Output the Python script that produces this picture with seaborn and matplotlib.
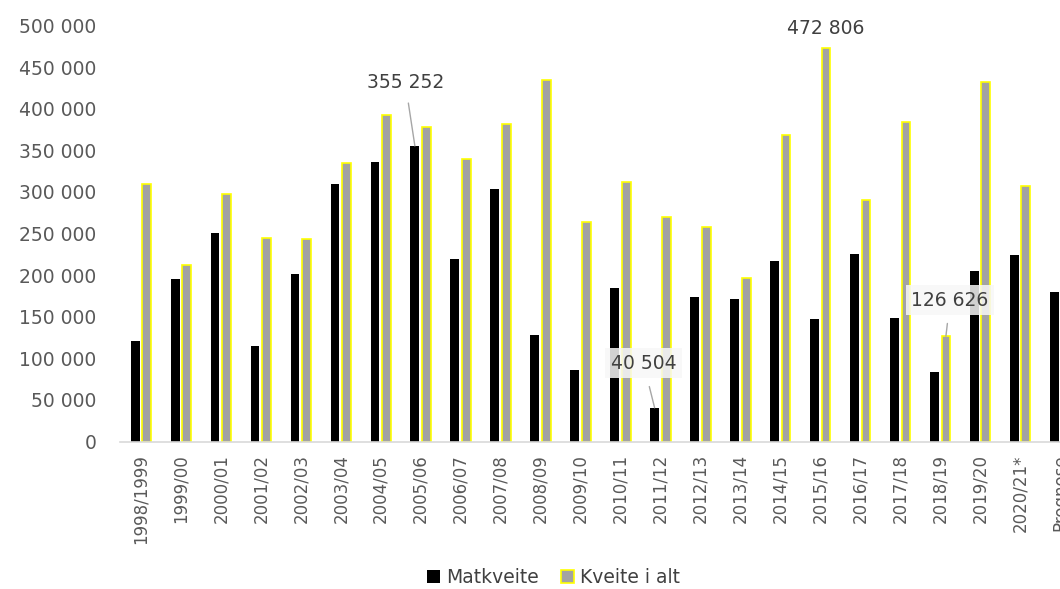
import pandas as pd
import matplotlib
matplotlib.use("Agg")
import matplotlib.pyplot as plt
from matplotlib.patches import Patch
import seaborn as sns

# Data
seasons = ["1998/1999", "1999/00", "2000/01", "2001/02", "2002/03", "2003/04",
           "2004/05", "2005/06", "2006/07", "2007/08", "2008/09", "2009/10",
           "2010/11", "2011/12", "2012/13", "2013/14", "2014/15", "2015/16",
           "2016/17", "2017/18", "2018/19", "2019/20", "2020/21*", "Prognose"]
matkveite = [120500, 195600, 251000, 115200, 201000, 309900,
             336300, 355252, 219000, 303500, 127600, 85600,
             184900, 40504, 174100, 171300, 217000, 147200,
             225000, 148000, 83900, 205300, 223800, 179300]
kveite_i_alt = [310100, 212400, 297500, 244600, 243800, 334800,
                392400, 378400, 340000, 381600, 434500, 264200,
                312300, 269800, 258200, 196900, 368400, 472806,
                289900, 384400, 126626, 431700, 307100, 243800]

series_names = ["Matkveite", "Kveite i alt"]
colors = {"Matkveite": "#000000", "Kveite i alt": "#A3A3A3"}
edge_yellow = "#FFFF00"
text_grey = "#595959"

df = pd.DataFrame({
    "season": seasons * 2,
    "value": matkveite + kveite_i_alt,
    "serie": [series_names[0]] * len(seasons) + [series_names[1]] * len(seasons),
})

sns.set_style("white")
plt.rcParams["font.family"] = ["DejaVu Sans"]

fig = plt.figure(figsize=(10.6, 5.89), dpi=100)
ax = fig.add_axes([0.1132, 0.2504, 0.8868, 0.7063])

sns.barplot(data=df, x="season", y="value", hue="serie", palette=colors,
            width=0.58, gap=0.24, ax=ax, errorbar=None, legend=False)

# black bars: no edge, grey bars: yellow outline
for p in ax.containers[0]:
    p.set_linewidth(0)
for p in ax.containers[1]:
    p.set_edgecolor(edge_yellow)
    p.set_linewidth(1.2)

ax.set_ylim(0, 500000)
ax.set_xlim(-0.525, 23.0)
ax.set_yticks(range(0, 500001, 50000))
ax.set_yticklabels([f"{v:,}".replace(",", " ") for v in range(0, 500001, 50000)])
ax.set_xlabel("")
ax.set_ylabel("")
ax.tick_params(axis="y", length=0, pad=17, labelsize=13.5, labelcolor=text_grey)
ax.tick_params(axis="x", length=0, pad=9, labelsize=12, labelcolor=text_grey)
plt.setp(ax.get_xticklabels(), rotation=90)

for side in ["top", "right", "left"]:
    ax.spines[side].set_visible(False)
ax.spines["bottom"].set_color("#D9D9D9")
ax.spines["bottom"].set_linewidth(1.2)


def bar_top(container, idx):
    p = container[idx]
    return p.get_x() + p.get_width() / 2, p.get_height()


label_kw = dict(fontsize=13.5, color="#404040", ha="center", va="center",
                textcoords="offset points", annotation_clip=False)
line_kw = dict(arrowstyle="-", color="#A6A6A6", lw=1, shrinkA=6, shrinkB=0)
box_kw = dict(boxstyle="square,pad=0.3", fc="#F7F7F7", ec="none", alpha=0.85)

# 355 252 (Matkveite 2005/06)
i = seasons.index("2005/06")
ax.annotate(f"{matkveite[i]:,}".replace(",", " "), xy=bar_top(ax.containers[0], i),
            xytext=(-7, 46), arrowprops=line_kw, **label_kw)
# 472 806 (Kveite i alt 2015/16)
i = seasons.index("2015/16")
ax.annotate(f"{kveite_i_alt[i]:,}".replace(",", " "), xy=bar_top(ax.containers[1], i),
            xytext=(0, 14), **label_kw)
# 40 504 (Matkveite 2011/12)
i = seasons.index("2011/12")
ax.annotate(f"{matkveite[i]:,}".replace(",", " "), xy=bar_top(ax.containers[0], i),
            xytext=(-8, 32), arrowprops=line_kw, bbox=box_kw, **label_kw)
# 126 626 (Kveite i alt 2018/19)
i = seasons.index("2018/19")
ax.annotate(f"{kveite_i_alt[i]:,}".replace(",", " "), xy=bar_top(ax.containers[1], i),
            xytext=(3, 26), arrowprops=line_kw, bbox=box_kw, **label_kw)

handles = [Patch(facecolor=colors["Matkveite"], edgecolor="none"),
           Patch(facecolor=colors["Kveite i alt"], edgecolor=edge_yellow, linewidth=1.2)]
fig.legend(handles, series_names, loc="lower center", bbox_to_anchor=(0.522, -0.025),
           ncol=2, frameon=False, fontsize=13.5, handlelength=0.7, handleheight=0.7,
           handletextpad=0.3, columnspacing=1.2, labelcolor="#404040")

fig.savefig("out.png", dpi=100)
